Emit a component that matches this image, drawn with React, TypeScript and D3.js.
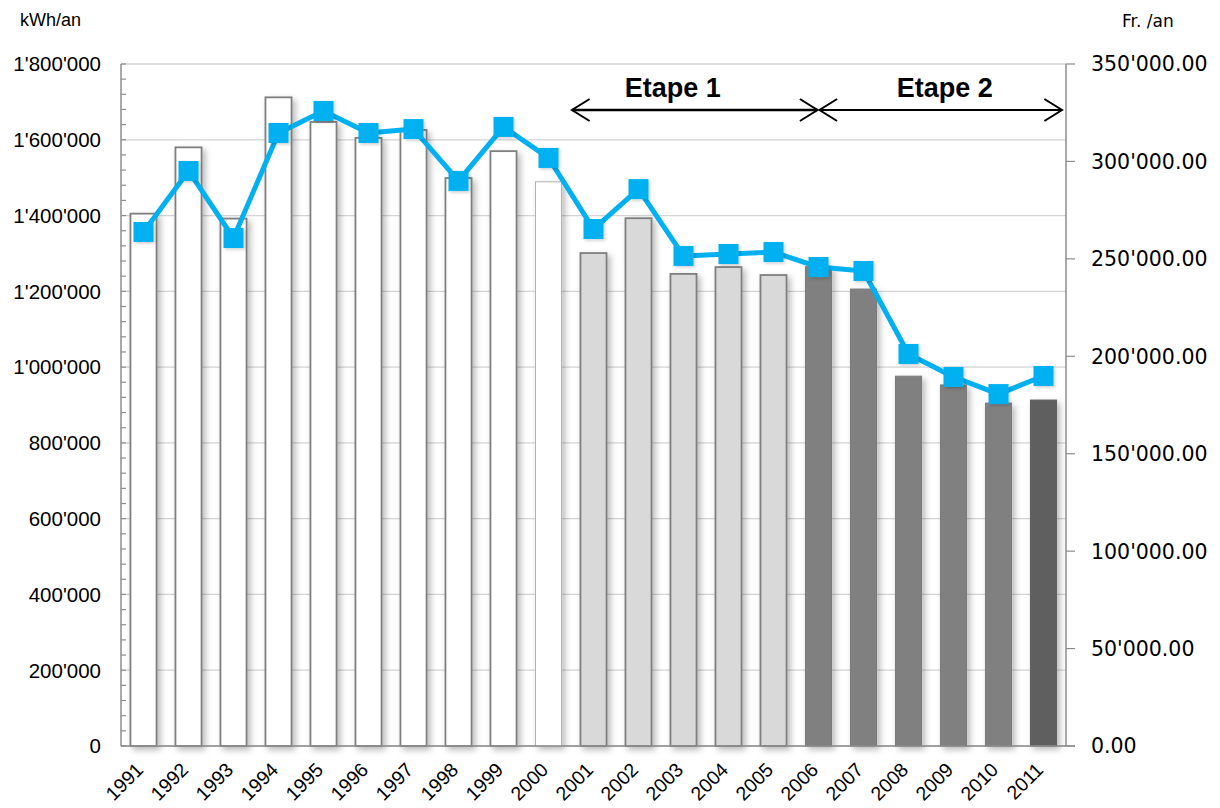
import React from "react";
import * as d3 from "d3";

const years = ["1991","1992","1993","1994","1995","1996","1997","1998","1999","2000","2001","2002","2003","2004","2005","2006","2007","2008","2009","2010","2011"];
const kwhValues = [1405000,1580000,1392000,1712000,1647000,1605000,1626000,1499000,1570000,1489000,1301000,1393000,1246000,1264000,1243000,1265000,1206000,976000,953000,905000,913000];
const francsValues = [263800,295100,260700,314600,325900,314600,316600,290000,317700,301800,265300,285800,251500,252500,253500,245800,243800,201200,189400,180600,189900];
const leftTicks = [0,200000,400000,600000,800000,1000000,1200000,1400000,1600000,1800000];
const rightTicks = [0,50000,100000,150000,200000,250000,300000,350000];
const etapes = [
  { label: "Etape 1", from: "2001", to: "2006" },
  { label: "Etape 2", from: "2006", to: "2011" },
];

const W = 1220, H = 808;
const L = 121, R = 1066, T = 64, B = 746;

function barStyle(year: string) {
  const y = +year;
  if (y <= 1999) return { fill: "#ffffff", stroke: "#7f7f7f", sw: 1.8 };
  if (y === 2000) return { fill: "#ffffff", stroke: "#b0b0b0", sw: 1 };
  if (y <= 2005) return { fill: "#d9d9d9", stroke: "#7f7f7f", sw: 1.8 };
  if (y <= 2010) return { fill: "#808080", stroke: "#7a7a7a", sw: 1 };
  return { fill: "#5f5f5f", stroke: "#5f5f5f", sw: 1 };
}

const fmtL = (v: number) => {
  if (v === 0) return "0";
  return d3.format(",")(v).replace(/,/g, "'");
};
const fmtR = (v: number) => d3.format(",.2f")(v).replace(/,/g, "'");

export default function App() {
  const x = d3.scaleBand<string>().domain(years).range([L, R]).padding(0);
  const yL = d3.scaleLinear().domain([0, 1800000]).range([B, T]);
  const yR = d3.scaleLinear().domain([0, 350000]).range([B, T]);
  const bw = x.bandwidth() * 0.58;
  const cx = (y: string) => (x(y) as number) + x.bandwidth() / 2;
  const minor = d3.range(0, 1800001, 40000);
  const line = d3.line<number>().x((_, i) => cx(years[i])).y((v) => yR(v));
  const ms = 20;

  return (
    <svg width={W} height={H} style={{ position: "absolute", left: 0, top: 0, background: "#fff" }} fontFamily="'Liberation Sans', Arial, sans-serif">
      <defs>
        <filter id="sh" x="-30%" y="-10%" width="180%" height="130%">
          <feDropShadow dx="3" dy="3" stdDeviation="3" floodColor="#000" floodOpacity="0.28" />
        </filter>
        <filter id="sh2" x="-30%" y="-30%" width="180%" height="180%">
          <feDropShadow dx="1.5" dy="1.5" stdDeviation="1.5" floodColor="#000" floodOpacity="0.2" />
        </filter>
      </defs>
      <rect x={0} y={0} width={W} height={H} fill="#fff" />
      {/* gridlines */}
      {leftTicks.map((t) => (
        <line key={"g" + t} x1={L} x2={R} y1={yL(t)} y2={yL(t)} stroke="#d4d4d4" strokeWidth={1.3} />
      ))}
      {/* bars */}
      {years.map((yr, i) => {
        const s = barStyle(yr);
        return (
          <rect key={"b" + yr} x={cx(yr) - bw / 2} y={yL(kwhValues[i])} width={bw} height={B - yL(kwhValues[i])}
            fill={s.fill} stroke={s.stroke} strokeWidth={s.sw} filter="url(#sh)" />
        );
      })}
      {/* axes */}
      <line x1={L} x2={L} y1={T} y2={B} stroke="#8c8c8c" strokeWidth={1.5} />
      <line x1={R} x2={R} y1={T} y2={B} stroke="#8c8c8c" strokeWidth={1.5} />
      <line x1={L} x2={R + 9} y1={B} y2={B} stroke="#8c8c8c" strokeWidth={1.5} />
      {minor.map((t) => (
        <line key={"m" + t} x1={L} x2={L + 5} y1={yL(t)} y2={yL(t)} stroke="#8c8c8c" strokeWidth={1.2} />
      ))}
      {rightTicks.map((t) => (
        <line key={"rt" + t} x1={R} x2={R + 9} y1={yR(t)} y2={yR(t)} stroke="#8c8c8c" strokeWidth={1.2} />
      ))}
      {/* left labels */}
      {leftTicks.map((t) => (
        <text key={"lt" + t} x={101} y={yL(t)} dy="0.36em" textAnchor="end" fontSize={20.5} fill="#000">{fmtL(t)}</text>
      ))}
      {rightTicks.map((t) => (
        <text key={"rl" + t} x={1091} y={yR(t)} dy="0.36em" textAnchor="start" fontSize={20.5} fontFamily="'DejaVu Sans', sans-serif" fill="#000">{fmtR(t)}</text>
      ))}
      <text x={20} y={26} fontSize={18} fill="#000">kWh/an</text>
      <text x={1122} y={27} fontSize={17} fontFamily="'DejaVu Sans', sans-serif" fill="#000">Fr. /an</text>
      {/* x labels */}
      {years.map((yr) => (
        <text key={"x" + yr} transform={`translate(${cx(yr) + 1},${771}) rotate(-45)`} textAnchor="end" fontSize={19.5} fill="#000">{yr}</text>
      ))}
      {/* line series */}
      <path d={line(francsValues) || ""} fill="none" stroke="#00b0f0" strokeWidth={5} strokeLinejoin="round" />
      {francsValues.map((v, i) => (
        <rect key={"p" + i} x={cx(years[i]) - ms / 2} y={yR(v) - ms / 2} width={ms} height={ms} fill="#00b0f0" filter="url(#sh2)" />
      ))}
      {/* etapes */}
      {etapes.map((e, i) => {
        const x1 = i === 0 ? (x(e.from) as number) + 1 : cx(e.from) + 1;
        const x2 = i === 0 ? cx(e.to) - 1 : R - 4;
        const ay = 110;
        const hs = 11;
        return (
          <g key={"e" + i}>
            <line x1={x1} x2={x2} y1={ay} y2={ay} stroke="#000" strokeWidth={i === 0 ? 2.5 : 2} />
            <polyline points={`${x1 + hs * 1.6},${ay - hs} ${x1},${ay} ${x1 + hs * 1.6},${ay + hs}`} fill="none" stroke="#000" strokeWidth={2} />
            <polyline points={`${x2 - hs * 1.6},${ay - hs} ${x2},${ay} ${x2 - hs * 1.6},${ay + hs}`} fill="none" stroke="#000" strokeWidth={2} />
            <text x={(x1 + x2) / 2 + (i === 0 ? -22 : 4)} y={97} textAnchor="middle" fontSize={27} fontWeight="bold" fill="#000">{e.label}</text>
          </g>
        );
      })}
    </svg>
  );
}
